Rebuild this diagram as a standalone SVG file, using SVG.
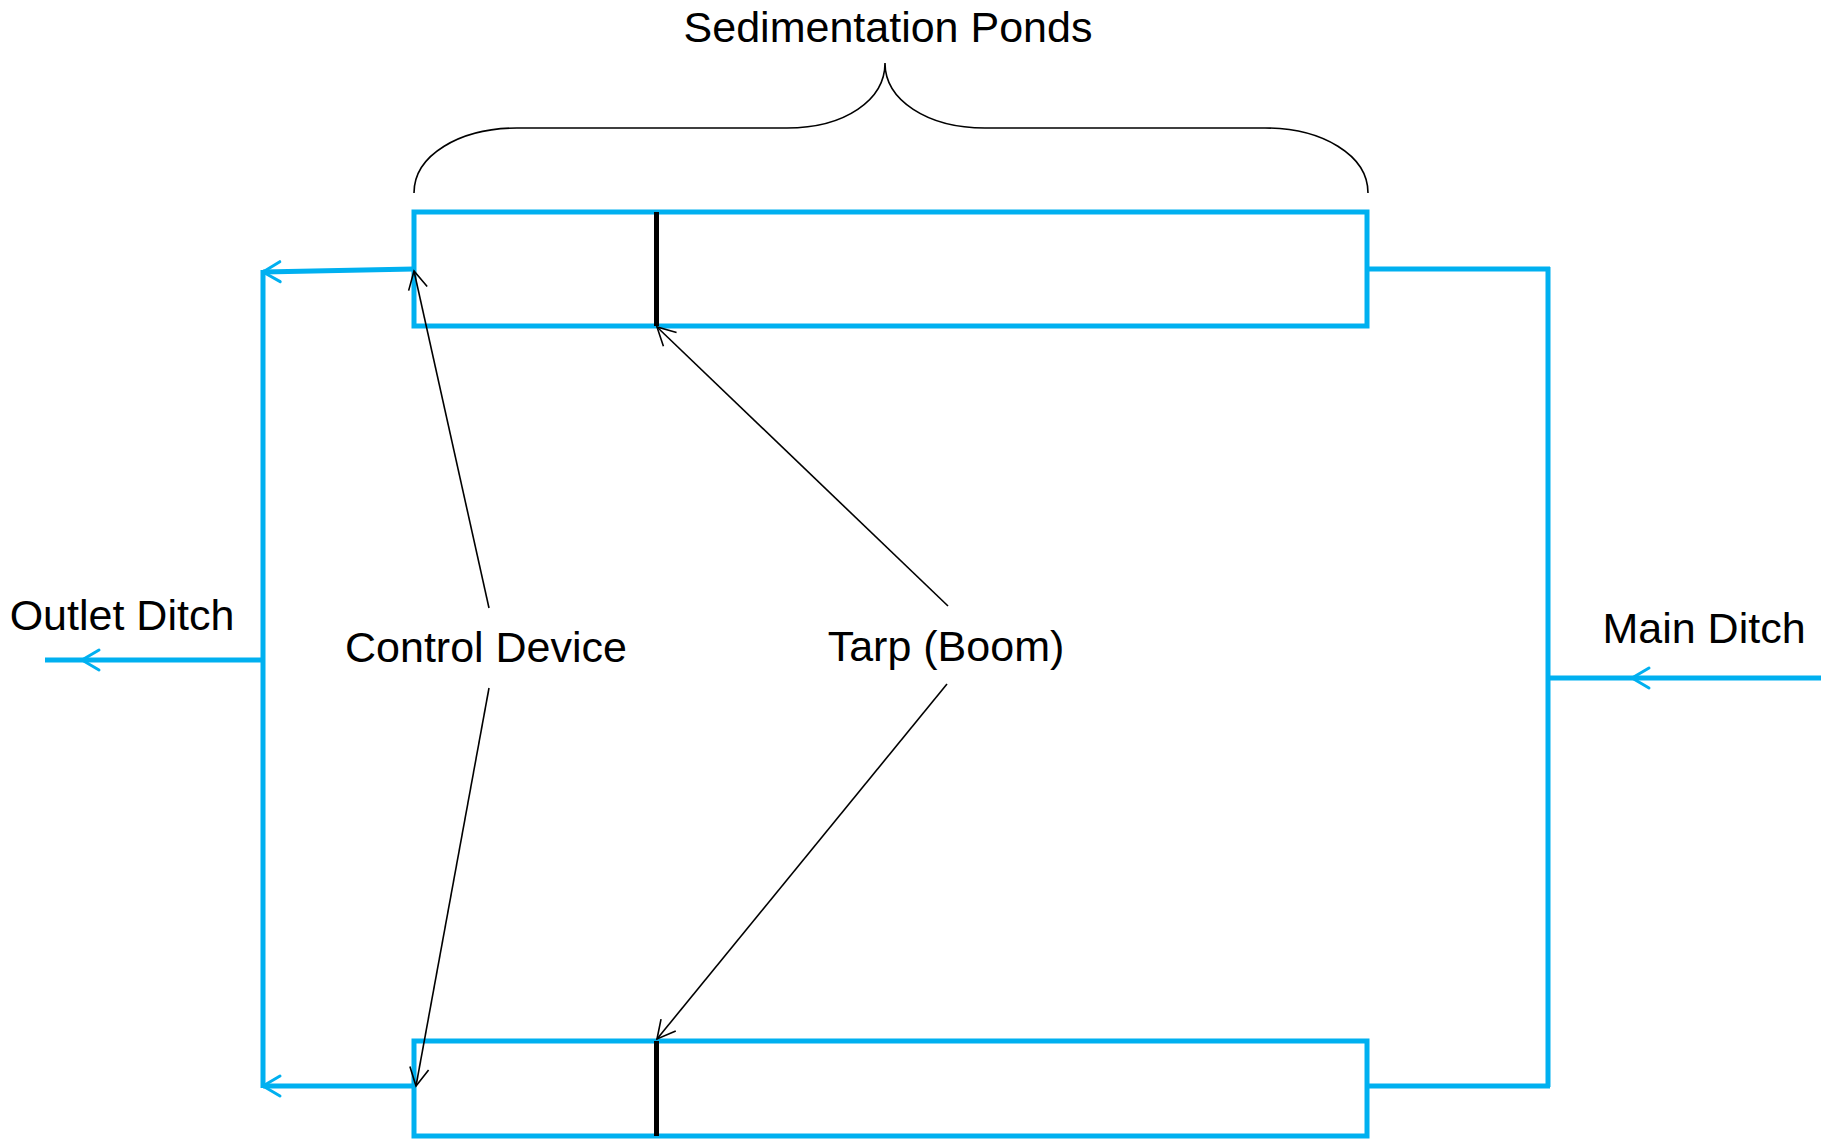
<svg xmlns="http://www.w3.org/2000/svg" width="1828" height="1143" viewBox="0 0 1828 1143">
  <style>
    .pond { fill: none; stroke: #00B0F0; stroke-width: 5; stroke-linejoin: miter; }
    .tarp { stroke: #000; stroke-width: 5; }
    .ditch { fill: none; stroke: #00B0F0; stroke-width: 5; }
    .flow { marker-end: url(#flowHead); }
    .flowMid { marker-mid: url(#flowHead); }
    .pointer { fill: none; stroke: #000; stroke-width: 1.6; marker-end: url(#pointerHead); }
    .brace { fill: none; stroke: #000; stroke-width: 1.6; }
    .label { font-family: "Liberation Sans", Arial, sans-serif; font-size: 43px; fill: #000; text-anchor: middle; }
  </style>
  <defs>
    <!-- open chevron showing flow direction on the ditches -->
    <marker id="flowHead" markerUnits="userSpaceOnUse" markerWidth="40" markerHeight="40" refX="0" refY="0" orient="auto" overflow="visible">
      <path d="M-17,-10 L0,0 L-17,10" fill="none" stroke="#00B0F0" stroke-width="3" stroke-linecap="round" stroke-linejoin="round"/>
    </marker>
    <!-- open arrowhead for the callout pointers -->
    <marker id="pointerHead" markerUnits="userSpaceOnUse" markerWidth="40" markerHeight="40" refX="0" refY="0" orient="auto" overflow="visible">
      <path d="M-18,-9.5 L0,0 L-18,9.5" fill="none" stroke="#000" stroke-width="1.6"/>
    </marker>
  </defs>

  <rect width="1828" height="1143" fill="#fff"/>

  <!-- title with brace spanning both ponds -->
  <g id="title">
    <text class="label" x="888" y="42">Sedimentation Ponds</text>
    <path class="brace" d="M414,193 C414,155 460,128 517,128 L787,128 C845,128 885,100 885,63 C885,100 927,128 985,128 L1265,128 C1322,128 1368,155 1368,193"/>
  </g>

  <!-- upper pond with its tarp boom -->
  <g id="pond-top">
    <rect class="pond" x="414" y="212" width="953" height="114"/>
    <line class="tarp" x1="656.5" y1="212" x2="656.5" y2="326"/>
  </g>

  <!-- lower pond with its tarp boom -->
  <g id="pond-bottom">
    <rect class="pond" x="414" y="1041" width="953" height="95"/>
    <line class="tarp" x1="656.5" y1="1041" x2="656.5" y2="1136"/>
  </g>

  <g id="label-outlet">
    <text class="label" x="122" y="630">Outlet Ditch</text>
  </g>
  <g id="label-control">
    <text class="label" x="486" y="662">Control Device</text>
  </g>
  <g id="label-tarp">
    <text class="label" x="946" y="661">Tarp (Boom)</text>
  </g>
  <g id="label-main">
    <text class="label" x="1704" y="643">Main Ditch</text>
  </g>

  <g id="connectors">
    <!-- inflow from the main ditch, split to both ponds -->
    <polyline class="ditch flowMid" points="1821,678 1632,678 1548,678"/>
    <line class="ditch" x1="1548" y1="267" x2="1548" y2="1087"/>
    <line class="ditch" x1="1367" y1="269" x2="1550" y2="269"/>
    <line class="ditch" x1="1367" y1="1086" x2="1550" y2="1086"/>

    <!-- outflow from both ponds to the outlet ditch -->
    <line class="ditch flow" x1="414" y1="269" x2="263" y2="272"/>
    <line class="ditch flow" x1="414" y1="1086" x2="263" y2="1086"/>
    <line class="ditch" x1="263" y1="270" x2="263" y2="1088"/>
    <polyline class="ditch flowMid" points="263,660 82,660 45,660"/>

    <!-- callout pointers -->
    <line class="pointer" x1="489" y1="608" x2="414" y2="271"/>
    <line class="pointer" x1="489" y1="688" x2="416" y2="1086"/>
    <line class="pointer" x1="948" y1="606" x2="657" y2="327"/>
    <line class="pointer" x1="947" y1="684" x2="657" y2="1039"/>
  </g>
</svg>
